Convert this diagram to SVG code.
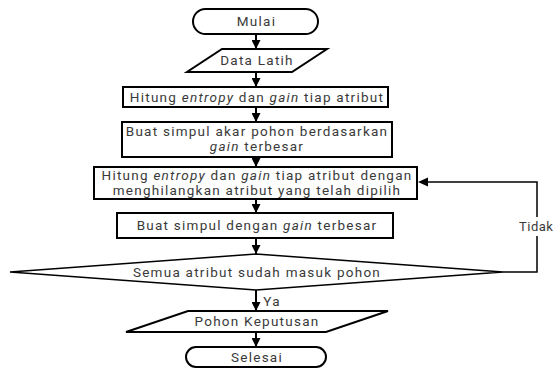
<svg xmlns="http://www.w3.org/2000/svg" width="555" height="368" viewBox="0 0 555 368">
<defs>
<marker id="ah" viewBox="0 0 10 10" refX="10" refY="5" markerWidth="9" markerHeight="9" markerUnits="userSpaceOnUse" orient="auto"><path d="M0,0 L10,5 L0,10 z" fill="#000"/></marker>
<style>
.s{fill:#fff;stroke:#000;stroke-width:2}
.d{fill:#fff;stroke:#000;stroke-width:1.5}
.t{font-family:Roboto,"Liberation Sans",sans-serif;font-size:13.5px;letter-spacing:1.25px;fill:#3a3a3a;text-anchor:middle}
.i{font-style:italic}
.c{fill:none;stroke:#000;stroke-width:2;marker-end:url(#ah)}
.l{fill:none;stroke:#000;stroke-width:1.5}
</style>
</defs>
<rect width="555" height="368" fill="#fff"/>
<g id="connectors">
<path class="c" d="M256,34 V49"/>
<path class="c" d="M256,72 V87"/>
<path class="c" d="M256,107 V122"/>
<path class="c" d="M256,157 V167"/>
<path class="c" d="M256,199 V213"/>
<path class="c" d="M256,238 V254"/>
<path class="c" d="M256,290 V311"/>
<path class="c" d="M256,332 V347"/>
<path class="l" d="M503,272 H537 V236 M537,217 V182 H427"/>
<path d="M418,182 L428,177.5 L428,186.5 z" fill="#000"/>
<text class="t" x="519" y="231" style="text-anchor:start;letter-spacing:0.5px;font-size:13px">Tidak</text>
<text class="t" x="272" y="306">Ya</text>
</g>
<g id="mulai"><rect class="s" x="193" y="9" width="125" height="25" rx="12.5"/><text class="t" x="256.5" y="26">Mulai</text></g>
<g id="data-latih"><polygon class="s" points="222,49 327,49 292,72 187,72"/><text class="t" x="257" y="65">Data Latih</text></g>
<g id="hitung1"><rect class="s" x="123" y="87" width="265" height="20"/><text class="t" x="257" y="101.5">Hitung <tspan class="i">entropy</tspan> dan <tspan class="i">gain</tspan> tiap atribut</text></g>
<g id="akar"><rect class="s" x="122" y="122" width="270" height="35"/><text class="t" x="257" y="136">Buat simpul akar pohon berdasarkan</text><text class="t" x="257" y="151"><tspan class="i">gain</tspan> terbesar</text></g>
<g id="hitung2"><rect class="s" x="94" y="167" width="323" height="32"/><text class="t" x="257" y="180">Hitung <tspan class="i">entropy</tspan> dan <tspan class="i">gain</tspan> tiap atribut dengan</text><text class="t" x="257" y="195">menghilangkan atribut yang telah dipilih</text></g>
<g id="simpul"><rect class="s" x="117" y="213" width="276" height="25"/><text class="t" x="257" y="230">Buat simpul dengan <tspan class="i">gain</tspan> terbesar</text></g>
<g id="keputusan-cek"><polygon class="d" points="10,272 256,254 503,272 256,290"/><text class="t" x="257" y="276.5">Semua atribut sudah masuk pohon</text></g>
<g id="pohon"><polygon class="s" points="188,311 388,311 326,332 126,332"/><text class="t" x="257" y="326">Pohon Keputusan</text></g>
<g id="selesai"><rect class="s" x="186" y="347" width="140" height="20" rx="10"/><text class="t" x="257" y="361.5">Selesai</text></g>
</svg>
